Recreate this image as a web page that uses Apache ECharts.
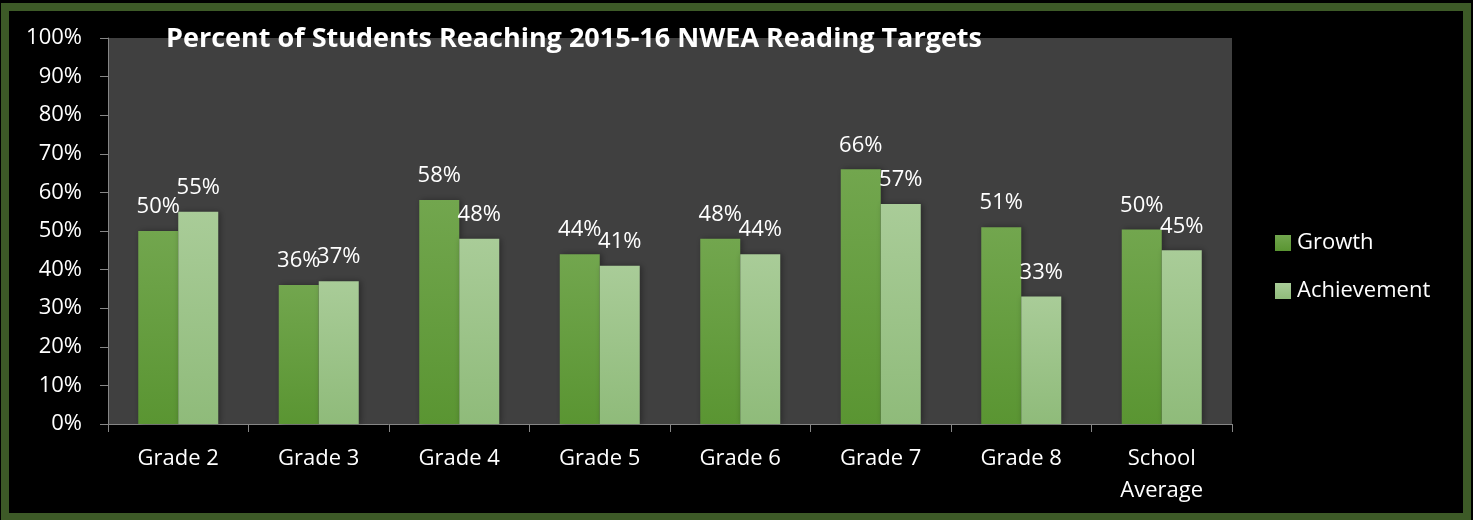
<!DOCTYPE html>
<html>
<head>
<meta charset="utf-8">
<script src="https://cdn.jsdelivr.net/npm/echarts@6/dist/echarts.min.js"></script>
<style>
  html, body { margin: 0; padding: 0; background: #ffffff; }
  #chart { width: 1473px; height: 520px; }
</style>
</head>
<body>
<div id="chart"></div>
<script>
// chart data
const grades = ["Grade 2", "Grade 3", "Grade 4", "Grade 5", "Grade 6", "Grade 7", "Grade 8", "School\nAverage"];
const growth = [50, 36, 58, 44, 48, 66, 51, 50.4];
const achievement = [55, 37, 48, 41, 44, 57, 33, 45];

const font = "'Open Sans', sans-serif";

function barColor(top, bottom) {
    return {
        type: "linear", x: 0, y: 0, x2: 0, y2: 1,
        colorStops: [
            { offset: 0, color: top },
            { offset: 1, color: bottom }
        ]
    };
}

const labelStyle = {
    show: true,
    position: "top",
    distance: 13,
    color: "#ffffff",
    fontSize: 22,
    fontFamily: font,
    formatter: p => Math.round(p.value) + "%"
};

var myChart = echarts.init(document.getElementById("chart"));
myChart.setOption({
    backgroundColor: "#000000",
    animation: false,
    title: {
        text: "Percent of Students Reaching 2015-16 NWEA Reading Targets",
        left: 569,
        textAlign: "center",
        top: 21,
        textStyle: {
            color: "#ffffff",
            fontSize: 27,
            fontWeight: "bold",
            fontFamily: font
        }
    },
    graphic: [
        {
            type: "rect",
            silent: true,
            z: 100,
            shape: { x: 5, y: 7, width: 1462, height: 510 },
            style: { fill: null, stroke: "#3d5a27", lineWidth: 8 }
        }
    ],
    legend: {
        orient: "vertical",
        left: 1270,
        top: 227,
        itemWidth: 16,
        itemHeight: 16,
        itemGap: 26,
        icon: "rect",
        textStyle: {
            color: "#ffffff",
            fontSize: 22,
            fontFamily: font,
            padding: [0, 0, 0, 1]
        }
    },
    grid: {
        left: 108,
        right: 241,
        top: 38,
        bottom: 96,
        show: true,
        backgroundColor: "#404040",
        borderWidth: 0
    },
    xAxis: {
        type: "category",
        data: grades,
        axisLine: { lineStyle: { color: "#868686", width: 1 } },
        axisTick: { show: true, length: 8, lineStyle: { color: "#868686" } },
        axisLabel: {
            color: "#ffffff",
            fontSize: 22,
            fontFamily: font,
            lineHeight: 32,
            margin: 19,
            interval: 0
        }
    },
    yAxis: {
        type: "value",
        min: 0,
        max: 100,
        interval: 10,
        axisLine: { show: true, lineStyle: { color: "#868686" } },
        axisTick: { show: true, length: 8, lineStyle: { color: "#868686" } },
        splitLine: { show: false },
        axisLabel: {
            color: "#ffffff",
            fontSize: 22,
            fontFamily: font,
            margin: 26,
            formatter: "{value}%"
        }
    },
    series: [
        {
            type: "bar",
            name: "Growth",
            data: growth,
            barWidth: 40,
            barGap: "0%",
            itemStyle: {
                color: barColor("#72a64e", "#5a9532"),
                shadowColor: "rgba(0,0,0,0.35)",
                shadowBlur: 6,
                shadowOffsetX: 2
            },
            label: labelStyle
        },
        {
            type: "bar",
            name: "Achievement",
            data: achievement,
            barWidth: 40,
            barGap: "0%",
            itemStyle: {
                color: barColor("#a9cc98", "#8fbb7a"),
                shadowColor: "rgba(0,0,0,0.35)",
                shadowBlur: 6,
                shadowOffsetX: 2
            },
            label: labelStyle
        }
    ]
});
</script>
</body>
</html>
